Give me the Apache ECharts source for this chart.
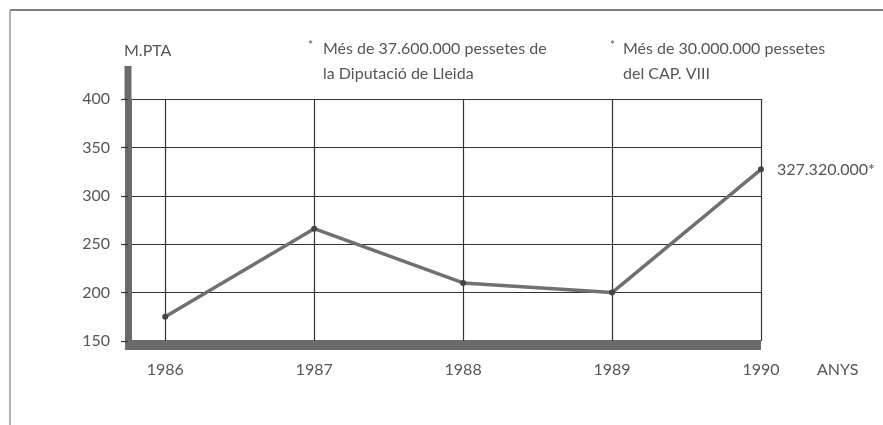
<!DOCTYPE html>
<html><head><meta charset="utf-8">
<script src="https://cdn.jsdelivr.net/npm/echarts@6/dist/echarts.min.js"></script>
<style>html,body{margin:0;padding:0;background:#fff}#c{width:883px;height:425px}</style>
</head><body><div id="c"></div>
<script>
// ---- data ----
const years = [1986, 1987, 1988, 1989, 1990];
const values = [175, 266, 210, 200, 327.32];
const yMin = 150, yMax = 400, yStep = 50;
const xMin = 1985.73;
const yName = 'M.PTA';
const xName = 'ANYS';
const lastLabel = '327.320.000*';
const note1 = ['Més de 37.600.000 pessetes de', 'la Diputació de Lleida'];
const note2 = ['Més de 30.000.000 pessetes', 'del CAP. VIII'];

const FONT = 'Lato';
const FS = 16;
const TXT = '#555';
const chart = echarts.init(document.getElementById('c'), null, {renderer: 'canvas'});

const lineData = years.map((y, i) => i === years.length - 1
  ? {value: [y, values[i]], label: {show: true, position: 'right', distance: 13, formatter: lastLabel,
      color: TXT, fontSize: FS, fontFamily: FONT}}
  : [y, values[i]]);

const option = {
  animation: false,
  backgroundColor: '#fff',
  grid: {left: 125, right: 122, top: 99, bottom: 84},
  xAxis: {
    type: 'value', min: xMin, max: years[years.length - 1], offset: 4,
    axisLine: {show: true, lineStyle: {color: '#6b6b6b', width: 10, cap: 'butt'}},
    axisTick: {show: false, customValues: years},
    axisLabel: {customValues: years, margin: 17, color: TXT, fontSize: FS, fontFamily: FONT,
      formatter: v => (years.indexOf(v) >= 0 ? String(v) : '')},
    splitLine: {show: false},
    name: xName, nameLocation: 'end', nameGap: 56,
    nameTextStyle: {color: TXT, fontSize: FS, fontFamily: FONT, align: 'left', verticalAlign: 'top', padding: [17, 0, 0, 0]}
  },
  yAxis: {
    type: 'value', min: yMin, max: yMax, interval: yStep, offset: -3,
    axisLine: {show: true, lineStyle: {color: '#6b6b6b', width: 7, cap: 'butt'}},
    axisTick: {show: true, length: 7, lineStyle: {color: '#333', width: 1.2}},
    axisLabel: {margin: 18, color: TXT, fontSize: FS, fontFamily: FONT, padding: [0, 0, 10, 0]},
    splitLine: {show: true, lineStyle: {color: '#333', width: 1.2}},
    name: yName, nameLocation: 'end', nameGap: 40,
    nameTextStyle: {color: TXT, fontSize: FS, fontFamily: FONT, align: 'left', padding: [0, 0, 0, -4]}
  },
  series: [
    {
      type: 'line', data: [], z: 1, silent: true,
      markLine: {
        symbol: 'none', silent: true, animation: false,
        label: {show: false},
        lineStyle: {color: '#333', width: 1.2, type: 'solid'},
        data: years.map(y => ({xAxis: y}))
      }
    },
    {
      type: 'line', z: 5, data: lineData,
      symbol: 'circle', symbolSize: 6,
      itemStyle: {color: '#444'},
      lineStyle: {color: '#707070', width: 3.5},
      label: {show: false}
    }
  ]
};
chart.setOption(option);

// decorative elements placed relative to the axes
const pTop = chart.convertToPixel({gridIndex: 0}, [xMin, yMax]);
const axisX = pTop[0] + 3;
chart.setOption({
  graphic: [
    {type: 'rect', shape: {x: axisX - 3.5, y: pTop[1] - 33, width: 7, height: 34}, style: {fill: '#6b6b6b'}, silent: true},
    {type: 'line', shape: {x1: 10, y1: 10, x2: 883, y2: 10}, style: {stroke: '#555', lineWidth: 1.5}, silent: true},
    {type: 'line', shape: {x1: 10, y1: 10, x2: 10, y2: 425}, style: {stroke: '#999', lineWidth: 1.5}, silent: true},
    {type: 'text', style: {text: '*', x: 308, y: 39, fill: TXT, font: '12px "' + FONT + '"'}, silent: true},
    {type: 'text', style: {text: note1.join('\n'), x: 323, y: 36, fill: TXT, font: FS + 'px "' + FONT + '"', lineHeight: 25}, silent: true},
    {type: 'text', style: {text: '*', x: 610, y: 39, fill: TXT, font: '12px "' + FONT + '"'}, silent: true},
    {type: 'text', style: {text: note2.join('\n'), x: 623, y: 36, fill: TXT, font: FS + 'px "' + FONT + '"', lineHeight: 25}, silent: true}
  ]
});
</script>
</body></html>
